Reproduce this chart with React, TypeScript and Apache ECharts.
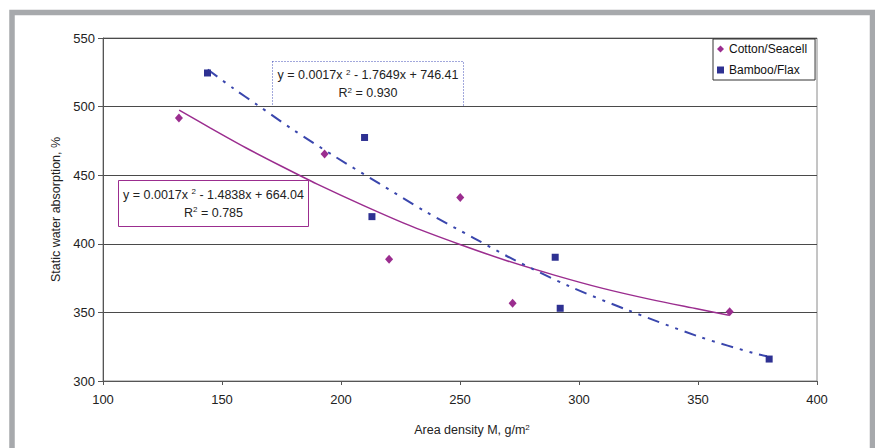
import React, { useEffect, useRef } from "react";
import * as echarts from "echarts";

// ---- data ----
const cottonPoints: [number, number][] = [
  [131.9, 491.6],
  [193.1, 465.4],
  [220.2, 388.8],
  [250.1, 433.7],
  [272.1, 356.7],
  [363.3, 350.5],
];
const bambooPoints: [number, number][] = [
  [143.9, 524.5],
  [209.9, 477.5],
  [213.0, 419.8],
  [290.0, 390.2],
  [292.1, 353.0],
  [379.9, 316.0],
];
// trend curves as drawn in the picture
const cottonTrend: [number, number][] = [
  [132, 497.5], [145, 484.5], [160, 470], [175, 456.5], [190, 443.5],
  [210, 427.5], [230, 412.5], [250, 399.5], [270, 387.5], [290, 377],
  [310, 367.5], [330, 359.5], [350, 352.5], [363, 348],
];
const bambooTrend: [number, number][] = [
  [144, 527], [155, 513], [165, 501], [180, 483], [198, 463], [216, 444],
  [235, 424], [256, 404], [272, 389], [296, 369], [320, 352], [351, 332],
  [374, 320], [379, 318],
];
const seriesNames = ["Cotton/Seacell", "Bamboo/Flax"];
const xTitle = ["Area density M, g/m", "2"];
const yTitle = "Static water absorption, %";
const cottonEq = ["y = 0.0017x ", "2", " - 1.4838x + 664.04"];
const cottonR2 = "0.785";
const bambooEq = ["y = 0.0017x ", "2", " - 1.7649x + 746.41"];
const bambooR2 = "0.930";

const MAGENTA = "#9b2d8f";
const BLUE = "#2e3192";
const TREND_BLUE = "#3a46ad";
const FONT = "Arial, 'Liberation Sans', sans-serif";

const rich = {
  a: { fontSize: 12.5, fontFamily: FONT, fill: "#222", lineHeight: 14 },
  s: { fontSize: 8, fontFamily: FONT, fill: "#222", lineHeight: 14, verticalAlign: "top", padding: [0, 0, 6, 0] },
};

function eqBox(
  x: number, y: number, w: number, h: number, color: string, dashed: boolean,
  eq: string[], r2: string
) {
  return {
    type: "group",
    x, y,
    z: 100,
    children: [
      {
        type: "rect",
        shape: { x: 0, y: 0, width: w, height: h },
        style: { fill: "#fff", stroke: color, lineWidth: 1, lineDash: dashed ? [1, 2] : null },
      },
      {
        type: "text",
        x: w / 2, y: h / 2 - 9,
        style: {
          text: `{a|${eq[0]}}{s|${eq[1]}}{a|${eq[2]}}`,
          rich, align: "center", verticalAlign: "middle",
        },
      },
      {
        type: "text",
        x: w / 2, y: h / 2 + 9,
        style: {
          text: `{a|R}{s|2}{a| = ${r2}}`,
          rich, align: "center", verticalAlign: "middle",
        },
      },
    ],
  };
}

export default function App() {
  const ref = useRef<HTMLDivElement>(null);
  useEffect(() => {
    if (!ref.current) return;
    const chart = echarts.init(ref.current, null, { renderer: "svg" });
    chart.setOption({
      animation: false,
      backgroundColor: "#fff",
      textStyle: { fontFamily: FONT },
      grid: {
        left: 103, top: 38, right: 58, bottom: 67,
        show: true, borderColor: "#8a8a8a", borderWidth: 1,
      },
      legend: {
        data: [
          { name: seriesNames[0], icon: "diamond" },
          { name: seriesNames[1], icon: "rect" },
        ],
        orient: "vertical",
        left: 713, top: 39,
        padding: [3, 8, 3, 4],
        itemGap: 7,
        itemWidth: 7, itemHeight: 7,
        backgroundColor: "#fff",
        borderColor: "#333", borderWidth: 1,
        textStyle: { fontSize: 12, color: "#111", fontFamily: FONT, lineHeight: 14 },
        z: 50,
      },
      xAxis: {
        type: "value",
        min: 100, max: 400, interval: 50,
        splitLine: { show: false },
        axisLine: { lineStyle: { color: "#555", width: 1 } },
        axisTick: { show: true, length: 4, lineStyle: { color: "#555" } },
        axisLabel: { fontSize: 13, color: "#222", margin: 12, fontFamily: FONT },
      },
      yAxis: {
        type: "value",
        min: 300, max: 550, interval: 50,
        splitLine: { show: true, lineStyle: { color: "#4a4a4a", width: 1 } },
        axisLine: { show: true, lineStyle: { color: "#555", width: 1 } },
        axisTick: { show: true, length: 5, lineStyle: { color: "#555" } },
        axisLabel: { fontSize: 13, color: "#222", margin: 8, fontFamily: FONT },
        name: yTitle,
        nameLocation: "middle",
        nameGap: 34,
        nameTextStyle: { fontSize: 12.5, color: "#222", fontFamily: FONT },
      },
      series: [
        {
          type: "line", name: "cottonTrend", data: cottonTrend, smooth: 0.3,
          showSymbol: false, symbol: "none",
          lineStyle: { color: MAGENTA, width: 1.5 }, z: 2,
        },
        {
          type: "line", name: "bambooTrend", data: bambooTrend, smooth: 0.3,
          showSymbol: false, symbol: "none",
          lineStyle: { color: TREND_BLUE, width: 2, type: [12, 7, 3, 7, 3, 7] }, z: 2,
        },
        {
          type: "scatter", name: seriesNames[0], data: cottonPoints,
          symbol: "diamond", symbolSize: [8, 9],
          itemStyle: { color: MAGENTA, opacity: 1 }, z: 5,
        },
        {
          type: "scatter", name: seriesNames[1], data: bambooPoints,
          symbol: "rect", symbolSize: 7,
          itemStyle: { color: BLUE, opacity: 1 }, z: 5,
        },
      ],
      graphic: [
        {
          type: "rect",
          shape: { x: 12, y: 12.5, width: 860.5, height: 480 },
          style: { fill: "none", stroke: "#a7a9ac", lineWidth: 5.5 },
          z: 200,
        },
        eqBox(272.5, 61.5, 191, 45, "#4450b8", true, bambooEq, bambooR2),
        eqBox(118.5, 180.5, 190, 46, MAGENTA, false, cottonEq, cottonR2),
        {
          type: "text",
          x: 472, y: 430,
          style: {
            text: `{a|${xTitle[0]}}{s|${xTitle[1]}}`,
            rich,
            align: "center", verticalAlign: "middle",
          },
          z: 100,
        },
      ],
    });
    return () => chart.dispose();
  }, []);
  return (
    <div
      ref={ref}
      style={{ position: "absolute", left: 0, top: 0, width: 875, height: 448 }}
    />
  );
}
